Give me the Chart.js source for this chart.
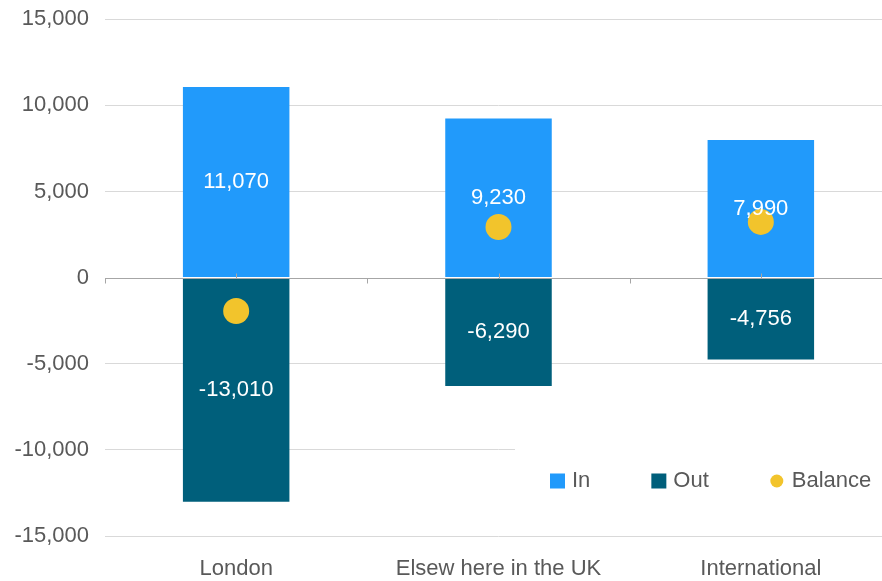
<!DOCTYPE html>
<html>
<head>
<meta charset="utf-8">
<script src="https://cdn.jsdelivr.net/npm/chart.js@4/dist/chart.umd.min.js"></script>
<style>
  html, body { margin: 0; padding: 0; background: #fff; overflow: hidden; }
  #wrap { width: 905px; height: 581px; }
</style>
</head>
<body>
<div id="wrap"><canvas id="flowChart" width="905" height="581"></canvas></div>
<script>
// Flows by region: in, out and the net balance
const categories = ["London", "Elsew here in the UK", "International"];
const inValues = [11070, 9230, 7990];
const outValues = [-13010, -6290, -4756];
const balanceValues = [-1940, 2940, 3234];
const yMin = -15000;
const yMax = 15000;
const yStep = 5000;

const textGrey = "#595959";
const fontFamily = "'Liberation Sans', Arial, sans-serif";

// zero line with the small category ticks, drawn over the bars
const zeroLine = {
    id: "zeroLine",
    afterDatasetsDraw(chart) {
        const { ctx, chartArea, scales } = chart;
        const y = Math.round(scales.y.getPixelForValue(0)) + 0.5;
        const n = chart.data.labels.length;
        const w = (chartArea.right - chartArea.left) / n;
        ctx.save();
        ctx.strokeStyle = "#A6A6A6";
        ctx.lineWidth = 1;
        ctx.beginPath();
        ctx.moveTo(chartArea.left, y);
        ctx.lineTo(chartArea.right, y);
        for (let i = 0; i <= n; i++) {
            const x = Math.round(chartArea.left + i * w) + 0.5;
            ctx.moveTo(x, y);
            ctx.lineTo(x, y + 5);
        }
        for (let i = 0; i < n; i++) {
            const x = Math.round(scales.x.getPixelForValue(i)) + 0.5;
            ctx.moveTo(x, y);
            ctx.lineTo(x, y - 5);
        }
        ctx.stroke();
        ctx.restore();
    }
};

// white value labels in the middle of each bar
const barLabels = {
    id: "barLabels",
    afterDatasetsDraw(chart) {
        const { ctx } = chart;
        ctx.save();
        ctx.fillStyle = "#ffffff";
        ctx.font = "22px " + fontFamily;
        ctx.textAlign = "center";
        ctx.textBaseline = "middle";
        chart.data.datasets.forEach((ds, di) => {
            if (ds.type !== "bar") return;
            chart.getDatasetMeta(di).data.forEach((bar, i) => {
                const p = bar.getCenterPoint();
                ctx.fillText(ds.data[i].toLocaleString("en-GB"), p.x, p.y);
            });
        });
        ctx.restore();
    }
};

// legend sitting inside the plot, bottom right, on a white box
const insideLegend = {
    id: "insideLegend",
    afterDraw(chart) {
        const { ctx, chartArea } = chart;
        ctx.save();
        ctx.fillStyle = "#ffffff";
        ctx.fillRect(515, 432, chartArea.right - 515, 96);
        ctx.font = "22px " + fontFamily;
        ctx.textBaseline = "middle";
        let x = 550;
        const cy = 481;
        chart.data.datasets.forEach(ds => {
            ctx.fillStyle = ds.backgroundColor;
            if (ds.type === "line") {
                ctx.beginPath();
                ctx.arc(x + 7, cy, 6.5, 0, Math.PI * 2);
                ctx.fill();
            } else {
                ctx.fillRect(x, cy - 7.5, 15, 15);
            }
            ctx.fillStyle = textGrey;
            ctx.textAlign = "left";
            ctx.fillText(ds.label, x + 22, cy);
            x += 22 + ctx.measureText(ds.label).width + 61;
        });
        ctx.restore();
    }
};

const ctx = document.getElementById("flowChart").getContext("2d");

new Chart(ctx, {
    data: {
        labels: categories,
        datasets: [
            {
                type: "bar",
                label: "In",
                data: inValues,
                backgroundColor: "#219AFB",
                stack: "flow",
                order: 2,
                categoryPercentage: 1,
                barPercentage: 0.406
            },
            {
                type: "bar",
                label: "Out",
                data: outValues,
                backgroundColor: "#005F7B",
                stack: "flow",
                order: 2,
                categoryPercentage: 1,
                barPercentage: 0.406
            },
            {
                type: "line",
                label: "Balance",
                data: balanceValues,
                backgroundColor: "#F2C42C",
                borderColor: "#F2C42C",
                pointBackgroundColor: "#F2C42C",
                pointBorderWidth: 0,
                pointRadius: 13,
                showLine: false,
                stack: "balance",
                order: 1
            }
        ]
    },
    options: {
        responsive: false,
        animation: false,
        layout: { padding: 0 },
        plugins: {
            legend: { display: false },
            tooltip: { enabled: false }
        },
        scales: {
            x: {
                stacked: true,
                grid: { display: false, drawTicks: true, tickLength: 20, tickColor: "rgba(0,0,0,0)" },
                border: { display: false },
                ticks: {
                    color: textGrey,
                    font: { family: fontFamily, size: 22 },
                    padding: 0,
                    maxRotation: 0
                },
                afterFit(scale) { scale.height = 45; }
            },
            y: {
                stacked: true,
                min: yMin,
                max: yMax,
                grid: {
                    color: c => (c.tick && c.tick.value === 0) ? "rgba(0,0,0,0)" : "#D9D9D9",
                    drawTicks: true,
                    tickLength: 10,
                    tickColor: "rgba(0,0,0,0)",
                    lineWidth: 1
                },
                border: { display: false },
                ticks: {
                    stepSize: yStep,
                    color: textGrey,
                    font: { family: fontFamily, size: 22 },
                    padding: 6,
                    callback: v => v.toLocaleString("en-GB")
                },
                afterFit(scale) { scale.width = 105; }
            }
        }
    },
    plugins: [zeroLine, barLabels, insideLegend]
});
</script>
</body>
</html>
